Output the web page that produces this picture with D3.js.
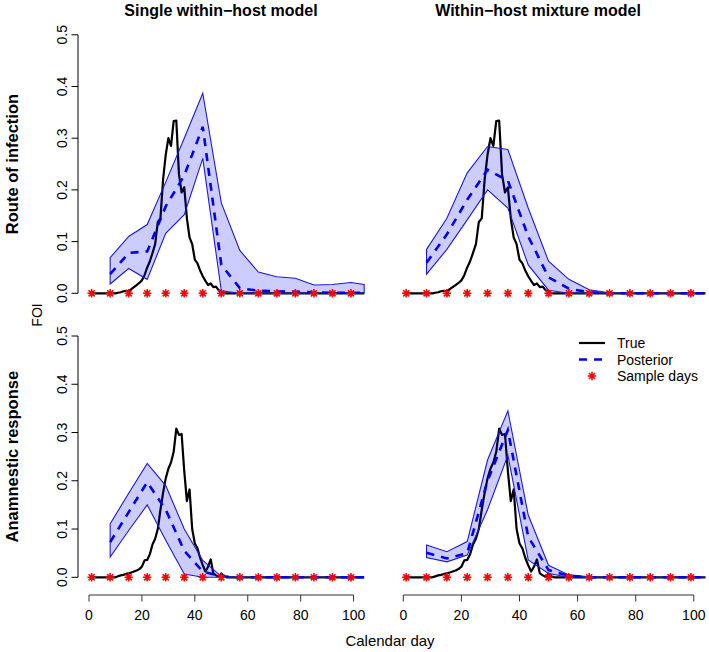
<!DOCTYPE html>
<html><head><meta charset="utf-8">
<script src="https://cdn.jsdelivr.net/npm/d3@7"></script>
<style>
body{margin:0;background:#fff}
svg{display:block}
text{font-family:"Liberation Sans",Arial,Helvetica,sans-serif;fill:#000}
</style>
</head><body>
<svg id="chart" width="709" height="652"></svg>
<script>
// ---------------- DATA ----------------
const columnTitles = ["Single within\u2212host model", "Within\u2212host mixture model"];
const rowTitles = ["Route of infection", "Anamnestic response"];
const sampleDays = [1, 8, 15, 22, 29, 36, 43, 50, 57, 64, 71, 78, 85, 92, 99];
const posteriorDays = [8, 15, 22, 29, 36, 43, 50, 57, 64, 71, 78, 85, 92, 99, 104];
const xTicks = [0, 20, 40, 60, 80, 100];
const yTicks = [0, 0.1, 0.2, 0.3, 0.4, 0.5];
const legendLabels = ["True", "Posterior", "Sample days"];

// true FOI, days 1..104
const trueRoute = [
  0,0,0,0,0,0,0,0,0,0,
  0.001,0.002,0.004,0.005,0.004,0.008,0.012,0.016,0.020,0.025,
  0.035,0.050,0.062,0.078,0.095,0.138,0.145,0.220,0.268,0.300,
  0.285,0.333,0.334,0.230,0.195,0.205,0.145,0.108,0.095,0.065,
  0.058,0.044,0.033,0.024,0.016,0.019,0.012,0.013,0.006,0.002,
  0,0,0,0,0,0,0,0,0,0, 0,0,0,0,0,0,0,0,0,0,
  0,0,0,0,0,0,0,0,0,0, 0,0,0,0,0,0,0,0,0,0,
  0,0,0,0,0,0,0,0,0,0, 0,0,0,0
];
const trueAnamnestic = [
  0,0,0,0,0,0,0,0,0,0,
  0.002,0.004,0.005,0.007,0.008,0.010,0.012,0.014,0.017,0.022,
  0.035,0.036,0.048,0.068,0.080,0.100,0.140,0.175,0.205,0.225,
  0.238,0.260,0.308,0.295,0.297,0.220,0.158,0.182,0.100,0.070,
  0.060,0.040,0.025,0.012,0.022,0.037,0.008,0.004,0.001,0.008,
  0.002,0,0,0,0,0,0,0,0,0, 0,0,0,0,0,0,0,0,0,0,
  0,0,0,0,0,0,0,0,0,0, 0,0,0,0,0,0,0,0,0,0,
  0,0,0,0,0,0,0,0,0,0, 0,0,0,0
];

// posterior (lower / median / upper) at posteriorDays
const routeSingleLower  = [0.018,0.048,0.027,0.116,0.152,0.261,0.005,0,0,0,0,0,0,0,0];
const routeSingleMedian = [0.037,0.078,0.081,0.168,0.228,0.322,0.055,0.010,0.005,0.004,0.003,0.002,0.001,0.001,0.001];
const routeSingleUpper  = [0.069,0.110,0.133,0.215,0.300,0.387,0.175,0.083,0.041,0.032,0.029,0.016,0.017,0.021,0.017];

const routeMixLower  = [0.037,0.085,0.142,0.200,0.165,0.055,0.006,0,0,0,0,0,0,0,0];
const routeMixMedian = [0.059,0.114,0.181,0.239,0.218,0.110,0.031,0.009,0.002,0,0,0,0,0,0];
const routeMixUpper  = [0.085,0.145,0.233,0.284,0.278,0.165,0.062,0.027,0.007,0.001,0,0,0,0,0];

const anamSingleLower  = [0.042,0.097,0.150,0.077,0.007,0,0,0,0,0,0,0,0,0,0];
const anamSingleMedian = [0.073,0.135,0.197,0.140,0.055,0.012,0.002,0,0,0,0,0,0,0,0];
const anamSingleUpper  = [0.111,0.174,0.236,0.190,0.100,0.035,0.002,0,0,0,0,0,0,0,0];

const anamMixLower  = [0.041,0.032,0.046,0.140,0.253,0.036,0.008,0,0,0,0,0,0,0,0];
const anamMixMedian = [0.051,0.039,0.050,0.200,0.305,0.084,0.015,0.003,0,0,0,0,0,0,0];
const anamMixUpper  = [0.067,0.053,0.074,0.243,0.345,0.129,0.025,0.005,0.001,0,0,0,0,0,0];

// ---------------- LAYOUT ----------------
const svg = d3.select("#chart");
const colRanges = [[89.0, 353.6], [403.3, 693.8]];
const rowRanges = [[293.3, 34.8], [577.3, 336.0]];
const xAxisY = 595;
const yAxisX = 78;

const panels = [
  {row:0, col:0, truth:trueRoute, lo:routeSingleLower, med:routeSingleMedian, hi:routeSingleUpper},
  {row:0, col:1, truth:trueRoute, lo:routeMixLower, med:routeMixMedian, hi:routeMixUpper},
  {row:1, col:0, truth:trueAnamnestic, lo:anamSingleLower, med:anamSingleMedian, hi:anamSingleUpper},
  {row:1, col:1, truth:trueAnamnestic, lo:anamMixLower, med:anamMixMedian, hi:anamMixUpper}
];

function star(g, cx, cy, r) {
  const d = r * 0.72;
  g.append("path")
    .attr("d", `M${cx-r},${cy}L${cx+r},${cy}M${cx},${cy-r}L${cx},${cy+r}M${cx-d},${cy-d}L${cx+d},${cy+d}M${cx-d},${cy+d}L${cx+d},${cy-d}`)
    .attr("stroke", "#ff0000").attr("stroke-width", 1.6).attr("fill", "none");
}

panels.forEach(p => {
  const x = d3.scaleLinear().domain([0, 100]).range(colRanges[p.col]);
  const y = d3.scaleLinear().domain([0, 0.5]).range(rowRanges[p.row]);
  const g = svg.append("g");

  const truthData = p.truth.map((v, i) => [i + 1, v]);
  g.append("path").datum(truthData)
    .attr("d", d3.line().x(d => x(d[0])).y(d => y(d[1])))
    .attr("fill", "none").attr("stroke", "#000").attr("stroke-width", 2.2)
    .attr("stroke-linejoin", "round");

  const band = posteriorDays.map((d, i) => ({d, lo: p.lo[i], hi: p.hi[i]}));
  g.append("path").datum(band)
    .attr("d", d3.area().x(d => x(d.d)).y0(d => y(d.lo)).y1(d => y(d.hi)))
    .attr("fill", "rgba(0,0,255,0.2)").attr("stroke", "#1a1ad8").attr("stroke-width", 1.1);

  const med = posteriorDays.map((d, i) => [d, p.med[i]]);
  g.append("path").datum(med)
    .attr("d", d3.line().x(d => x(d[0])).y(d => y(d[1])))
    .attr("fill", "none").attr("stroke", "#0000ee").attr("stroke-width", 2.6)
    .attr("stroke-dasharray", "8,7");

  sampleDays.forEach(sd => star(g, x(sd), y(0), 4.2));

  // y axis on left column
  if (p.col === 0) {
    const ax = svg.append("g");
    ax.append("line").attr("x1", yAxisX).attr("x2", yAxisX)
      .attr("y1", y(0)).attr("y2", y(0.5)).attr("stroke", "#000").attr("stroke-width", 1);
    yTicks.forEach(t => {
      ax.append("line").attr("x1", yAxisX - 6.5).attr("x2", yAxisX)
        .attr("y1", y(t)).attr("y2", y(t)).attr("stroke", "#000");
      ax.append("text")
        .attr("transform", `translate(${yAxisX - 11},${y(t)}) rotate(-90)`)
        .attr("text-anchor", "middle").attr("font-size", 14).attr("fill", "#222")
        .text(d3.format(".1f")(t));
    });
  }
  // x axis on bottom row
  if (p.row === 1) {
    const ax = svg.append("g");
    ax.append("line").attr("x1", x(0)).attr("x2", x(100))
      .attr("y1", xAxisY).attr("y2", xAxisY).attr("stroke", "#333");
    xTicks.forEach(t => {
      ax.append("line").attr("x1", x(t)).attr("x2", x(t))
        .attr("y1", xAxisY).attr("y2", xAxisY + 6.5).attr("stroke", "#333");
      ax.append("text").attr("x", x(t)).attr("y", xAxisY + 25)
        .attr("text-anchor", "middle").attr("font-size", 14).attr("fill", "#222")
        .text(t);
    });
  }
});

// titles
columnTitles.forEach((t, i) => {
  svg.append("text").attr("x", i === 0 ? 221 : 538).attr("y", 16)
    .attr("text-anchor", "middle").attr("font-size", 16).attr("font-weight", "bold").text(t);
});
rowTitles.forEach((t, i) => {
  const cy = (rowRanges[i][0] + rowRanges[i][1]) / 2;
  svg.append("text").attr("transform", `translate(18,${cy}) rotate(-90)`)
    .attr("text-anchor", "middle").attr("font-size", 16.5).attr("font-weight", "bold").text(t);
});
svg.append("text").attr("transform", "translate(42,315) rotate(-90)")
  .attr("text-anchor", "middle").attr("font-size", 14).text("FOI");
svg.append("text").attr("x", 390).attr("y", 646)
  .attr("text-anchor", "middle").attr("font-size", 15).text("Calendar day");

// legend
const lg = svg.append("g");
const ly = [343, 359.5, 376];
lg.append("line").attr("x1", 579).attr("x2", 605).attr("y1", ly[0]).attr("y2", ly[0])
  .attr("stroke", "#000").attr("stroke-width", 2.2);
lg.append("line").attr("x1", 579).attr("x2", 605).attr("y1", ly[1]).attr("y2", ly[1])
  .attr("stroke", "#0000ee").attr("stroke-width", 2.6).attr("stroke-dasharray", "8,7");
star(lg, 592, ly[2], 4.2);
legendLabels.forEach((t, i) => {
  lg.append("text").attr("x", 617).attr("y", ly[i] + 5)
    .attr("font-size", 14).attr("fill", "#222").text(t);
});
</script>
</body></html>
